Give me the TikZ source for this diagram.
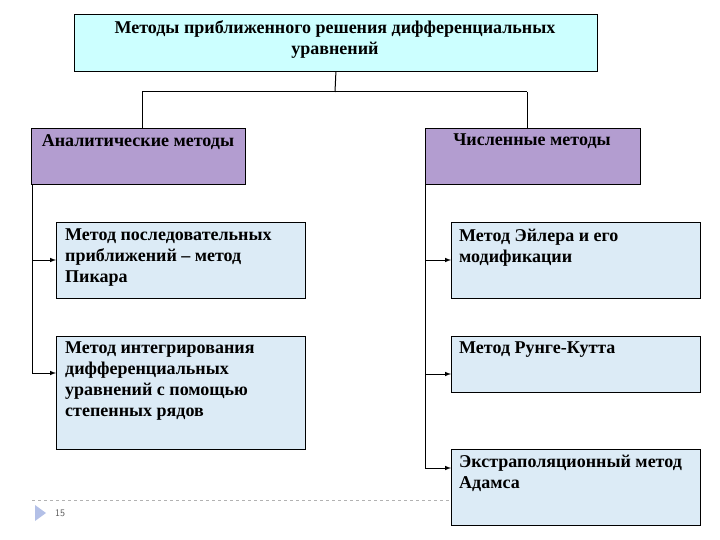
\documentclass[tikz,border=0pt]{standalone}
\usepackage{fontspec}
\setmainfont{Liberation Serif}
\begin{document}
\begin{tikzpicture}[x=1pt,y=-1pt,
 bx/.style={draw=black,line width=0.8pt,anchor=north west,inner sep=0pt},
 txt/.style={anchor=north west,align=left,font=\bfseries\fontsize{18}{21}\selectfont,inner sep=0pt},
 ln/.style={line width=1pt},
 ar/.style={line width=1pt,-latex}]
\useasboundingbox (0,0) rectangle (720,540);
\definecolor{topc}{HTML}{CCFFFF}
\definecolor{purp}{HTML}{B39DD0}
\definecolor{lblue}{HTML}{DCEBF6}
% top
\node[bx,fill=topc,minimum width=523,minimum height=57] (top) at (74,14) {};
\node[anchor=north,align=center,font=\bfseries\fontsize{18}{21}\selectfont,inner sep=0pt] (toptxt) at (335,20) {Методы приближенного решения дифференциальных\\уравнений};
\node[bx,fill=purp,minimum width=214,minimum height=56] (an) at (31,128) {};
\node[txt,anchor=north] (antxt) at (138,134) {Аналитические методы};
\node[bx,fill=purp,minimum width=215,minimum height=56] (ch) at (425,128) {};
\node[txt,anchor=north] (chtxt) at (532,134) {Численные методы};
% left children
\node[bx,fill=lblue,minimum width=249,minimum height=76] (l1) at (56,222) {};
\node[txt] (l1t) at (65,229) {Метод последовательных\\приближений – метод\\Пикара};
\node[bx,fill=lblue,minimum width=249,minimum height=113] (l2) at (56,336) {};
\node[txt] (l2t) at (65,342) {Метод интегрирования\\дифференциальных\\уравнений с помощью\\степенных рядов};
% right children
\node[bx,fill=lblue,minimum width=249,minimum height=76] (r1) at (451,222) {};
\node[txt] (r1t) at (459,229) {Метод Эйлера и его\\модификации};
\node[bx,fill=lblue,minimum width=249,minimum height=56] (r2) at (451,336) {};
\node[txt] (r2t) at (459,342) {Метод Рунге-Кутта};
\node[bx,fill=lblue,minimum width=249,minimum height=76] (r3) at (451,449) {};
\node[txt] (r3t) at (459,455) {Экстраполяционный метод\\Адамса};
% connectors
\coordinate (j) at (335,92);
\draw[ln] (top.south) -- (j);
\draw[ln] (142,92) -- (527,92);
\draw[ln] (142,92) -- (142,128);
\draw[ln] (527,92) -- (527,128);
\draw[ln] (32,184) -- (32,373);
\draw[ar] (32,260) -- (56,260);
\draw[ar] (32,373) -- (56,373);
\draw[ln] (425,184) -- (425,468);
\draw[ar] (425,260) -- (451,260);
\draw[ar] (425,374) -- (451,374);
\draw[ar] (425,468) -- (451,468);
% footer
\draw[gray!60,dashed,line width=0.5pt] (32,500) -- (451,500);
\fill[cyan!40!blue!30] (35,505) -- (46,513) -- (35,521) -- cycle;
\node[anchor=west,font=\sffamily\fontsize{10}{12}\selectfont,text=gray!70!black,inner sep=0pt] (num) at (55,513) {15};
\end{tikzpicture}
\end{document}
